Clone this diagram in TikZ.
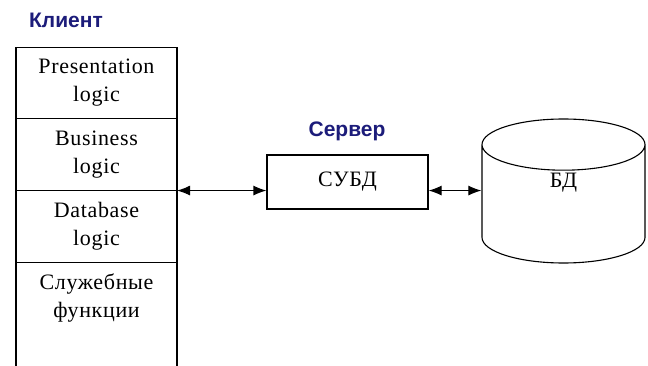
\documentclass[tikz,border=0pt]{standalone}
\usepackage{fontspec}
\setmainfont{Liberation Serif}
\newfontfamily\titlefont{Liberation Sans}
\newfontfamily\layerfont[LetterSpace=3]{Liberation Serif}
\usetikzlibrary{positioning,arrows.meta,shapes.geometric}
\definecolor{titleblue}{RGB}{28,28,122}
\tikzset{
  layer/.style={minimum width=161pt,minimum height=71.7pt,inner sep=0pt,outer sep=0pt,align=center,font=\layerfont\fontsize{22}{28}\selectfont},
  title/.style={font=\titlefont\bfseries\fontsize{21}{24}\selectfont,text=titleblue},
  link/.style={{Latex[length=13pt,width=10pt]}-{Latex[length=13pt,width=10pt]}},
}
\begin{document}
\begin{tikzpicture}[x=1pt,y=-1pt,line width=1.1pt]
    \useasboundingbox (0,0) rectangle (648,366);
    %client side
    \node[title] (client) at (66,20) {Клиент};
    \node[layer,draw] (pres) at (96.5,83) {Presentation\\logic};
    \node[layer,draw,below=0pt of pres] (busi) {Business\\logic};
    \node[layer,draw,below=0pt of busi] (dblogic) {Database\\logic};
    \node[layer,below=0pt of dblogic] (service) {Служебные\\функции};
    \coordinate (bottom) at (0,366);
    \draw (service.north west) -- (service.north west |- bottom);
    \draw (service.north east) -- (service.north east |- bottom);
    %server side
    \node[title] (server) at (347,131) {Сервер};
    \node[draw,minimum width=161pt,minimum height=54pt,font=\layerfont\fontsize{22}{28}\selectfont] (dbms) at (347.5,182) {СУБД};
    \node[draw,cylinder,shape border rotate=90,aspect=1.5,minimum width=163pt,minimum height=144pt,anchor=shape center,font=\layerfont\fontsize{22}{28}\selectfont] (bd) at (563.5,191) {\phantom{БД}};
    \node[font=\layerfont\fontsize{22}{28}\selectfont] (bdlabel) at (563.5,183) {БД};
    \draw[link] (busi.south east) -- (busi.south east -| dbms.west);
    \draw[link] (dbms.east |- busi.south) -- (busi.south -| bd.west);
\end{tikzpicture}
\end{document}
